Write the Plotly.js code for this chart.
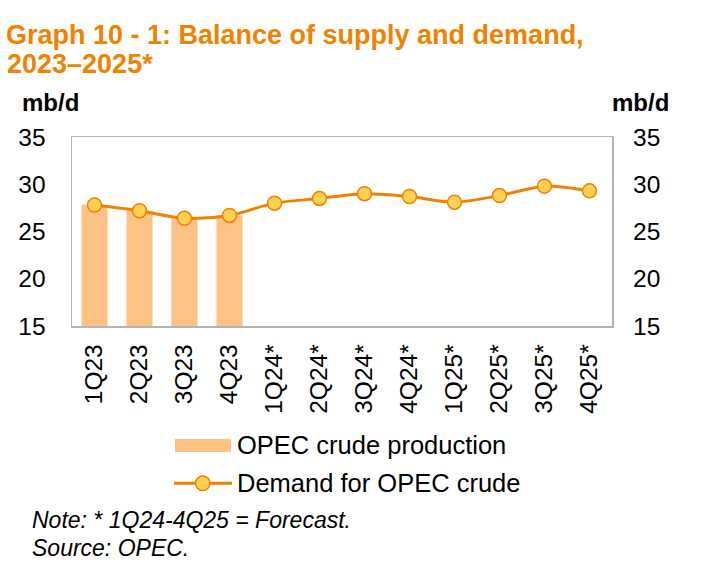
<!DOCTYPE html>
<html>
<head>
<meta charset="utf-8">
<script src="https://cdn.plot.ly/plotly-3.0.1.min.js"></script>
<style>
  html, body { margin: 0; padding: 0; background: #fff; }
  #chart { width: 705px; height: 570px; }
</style>
</head>
<body>
<div id="chart"></div>
<script>
// ---- data ----
const quarters = ["1Q23","2Q23","3Q23","4Q23","1Q24*","2Q24*","3Q24*","4Q24*","1Q25*","2Q25*","3Q25*","4Q25*"];
const productionQuarters = ["1Q23","2Q23","3Q23","4Q23"];
const opecProduction = [27.8, 27.2, 26.4, 26.7];
const demandForOpec = [27.8, 27.2, 26.4, 26.7, 28.0, 28.5, 29.0, 28.7, 28.1, 28.8, 29.8, 29.3];
const seriesNames = ["OPEC crude production", "Demand for OPEC crude"];
const titleLines = ["Graph 10 - 1: Balance of supply and demand,", "2023–2025*"];
const unitLabel = "mb/d";
const noteLines = ["Note: * 1Q24-4Q25 = Forecast.", "Source: OPEC."];

// ---- style ----
const FONT = "Liberation Sans, Arial, Helvetica, sans-serif";
const ORANGE = "#F08200";
const BAR = "#FFC285";
const MARK = "#FFD152";
const FRAME = "#B4B4B4";
const W = 705, H = 570;
const M = {l: 72, r: 93, t: 137, b: 244};
const PW = W - M.l - M.r, PH = H - M.t - M.b;
const px = x => (x - M.l) / PW;          // pixel -> paper x
const py = y => (H - M.b - y) / PH;      // pixel -> paper y

const traces = [
  {
    type: "bar", x: productionQuarters, y: opecProduction, name: seriesNames[0],
    marker: {color: BAR}, xaxis: "x", yaxis: "y", hoverinfo: "x+y"
  },
  {
    type: "scatter", mode: "lines+markers", x: quarters, y: demandForOpec, name: seriesNames[1],
    line: {color: ORANGE, width: 3, shape: "spline", smoothing: 0.8},
    marker: {size: 14, color: MARK, line: {color: ORANGE, width: 1.5}},
    xaxis: "x", yaxis: "y2"
  }
];

const yCommon = {
  range: [15, 35], dtick: 5, tick0: 15, showgrid: false, zeroline: false,
  ticks: "", ticklabelstandoff: 20,
  tickfont: {family: FONT, size: 24.5, color: "#000"}
};

function ann(text, xPix, yPix, opts) {
  return Object.assign({
    text: text, xref: "paper", yref: "paper", x: px(xPix), y: py(yPix),
    xanchor: "left", yanchor: "middle", showarrow: false,
    font: {family: FONT, size: 24.5, color: "#000"}
  }, opts || {});
}

const layout = {
  width: W, height: H,
  margin: M,
  paper_bgcolor: "#fff", plot_bgcolor: "#fff",
  showlegend: false,
  bargap: 0.42,
  title: {
    text: "<b>" + titleLines[0] + "</b>",
    font: {family: FONT, size: 27, color: ORANGE},
    xref: "container", yref: "container",
    x: 6 / W, xanchor: "left", y: 1 - 35 / H, yanchor: "middle"
  },
  xaxis: {
    type: "category", categoryarray: quarters, categoryorder: "array",
    range: [-0.5, quarters.length - 0.5],
    showline: true, mirror: true, linecolor: FRAME, linewidth: 1.5,
    showgrid: false, ticks: "", tickangle: -90, ticklabelstandoff: 7,
    tickfont: {family: FONT, size: 24.5, color: "#000"}
  },
  yaxis: Object.assign({}, yCommon, {
    side: "left", showline: true, mirror: true, linecolor: FRAME, linewidth: 1.5
  }),
  yaxis2: Object.assign({}, yCommon, {
    side: "right", overlaying: "y", showline: false
  }),
  shapes: [
    // legend key: bar
    {type: "rect", xref: "paper", yref: "paper", x0: px(175), x1: px(231), y0: py(452), y1: py(439),
     fillcolor: BAR, line: {width: 0}},
    // legend key: line + marker
    {type: "line", xref: "paper", yref: "paper", x0: px(174), x1: px(232), y0: py(483.3), y1: py(483.3),
     line: {color: ORANGE, width: 3}},
    {type: "circle", xref: "paper", yref: "paper", x0: px(195.5), x1: px(210), y0: py(490.5), y1: py(476),
     fillcolor: MARK, line: {color: ORANGE, width: 1.5}}
  ],
  annotations: [
    ann("<b>" + titleLines[1] + "</b>", 5, 63.7, {font: {family: FONT, size: 27, color: ORANGE}}),
    ann("<b>" + unitLabel + "</b>", 19.5, 102.5, {font: {family: FONT, size: 24, color: "#000"}}),
    ann("<b>" + unitLabel + "</b>", 640, 102.5, {xanchor: "center", font: {family: FONT, size: 24, color: "#000"}}),
    ann(seriesNames[0], 235, 445, {font: {family: FONT, size: 25.5, color: "#000"}}),
    ann(seriesNames[1], 235, 483.3, {font: {family: FONT, size: 25.5, color: "#000"}}),
    ann("<i>" + noteLines[0] + "</i>", 30, 520, {font: {family: FONT, size: 23, color: "#000"}}),
    ann("<i>" + noteLines[1] + "</i>", 30, 547.5, {font: {family: FONT, size: 23, color: "#000"}})
  ]
};

Plotly.newPlot("chart", traces, layout, {displayModeBar: false, staticPlot: true});
</script>
</body>
</html>
